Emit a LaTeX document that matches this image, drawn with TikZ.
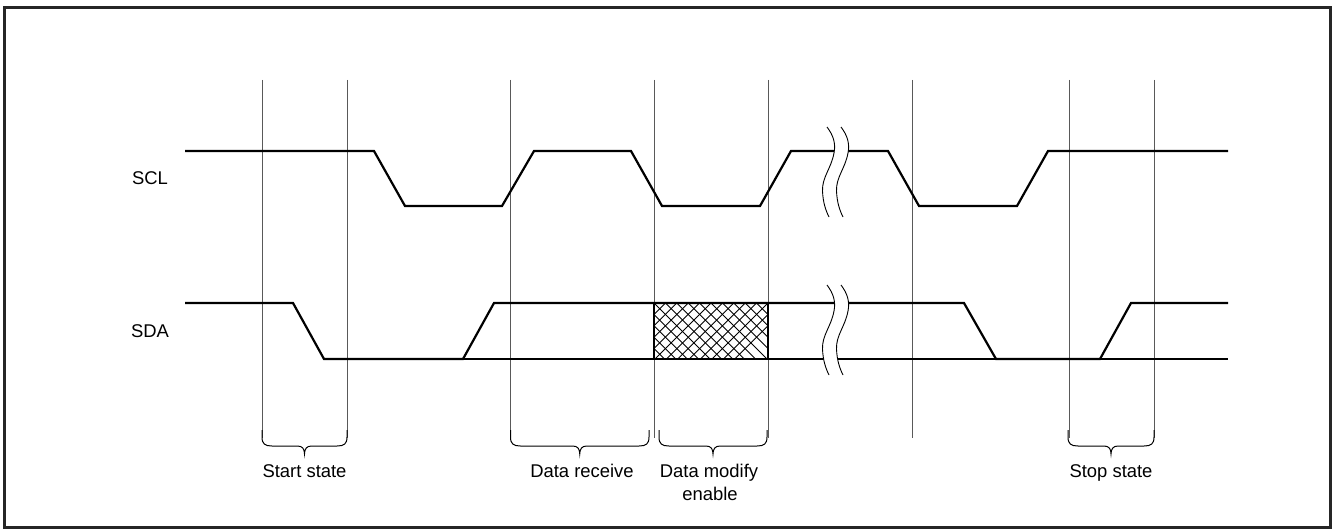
\documentclass[tikz,border=0pt]{standalone}
\usepackage{fontspec}
\setmainfont{Liberation Sans}
\begin{document}
\begin{tikzpicture}[x=1bp,y=-1bp,
  sig/.style={line width=2.2bp,line join=miter,black},
  grid/.style={line width=1bp,black!65},
  brk/.style={line width=0.9bp,black},
  brc/.style={line width=1bp,black},
  lbl/.style={font=\fontsize{18.5}{23}\selectfont,inner sep=0pt,align=center}]
\useasboundingbox (0,0) rectangle (1335,531);
\draw[line width=2.6bp,black!85] (4.5,7.5) rectangle (1330.5,527.5);
% grid lines
\foreach \x in {262,347,510,654,768,912,1069,1154}
  \draw[grid] (\x,80) -- (\x,438);
% SCL
\draw[sig] (185,151) -- (374,151) -- (405,206) -- (502,206) -- (534,151) -- (631,151)
  -- (662,206) -- (760,206) -- (791,151) -- (888,151) -- (919,206) -- (1017,206)
  -- (1048,151) -- (1228,151);
% SDA
\draw[sig] (185,303) -- (293,303) -- (324,359) -- (463,359) -- (494,303) -- (964,303)
  -- (996,359) -- (1100,359) -- (1131,303) -- (1228,303);
\draw[sig] (324,359) -- (1228,359);
% hatch box
\begin{scope}
  \clip (654,303) rectangle (768,359);
  \foreach \k in {-6,...,12}
    \draw[line width=0.9bp] (654+\k*11.4,303) -- ++(60,60) (654+\k*11.4,303) -- ++(-60,60);
\end{scope}
\draw[line width=2.2bp] (654,303) rectangle (768,359);
% breaks
\foreach \t in {127,285}{
  \fill[white] (827,\t) .. controls (833,\t+8) and (836,\t+16) .. (834,\t+26)
      .. controls (831,\t+42) and (822,\t+50) .. (822.5,\t+64)
      .. controls (823,\t+76) and (826,\t+84) .. (829,\t+90)
    -- (843,\t+90) .. controls (840,\t+84) and (837,\t+76) .. (836.5,\t+64)
      .. controls (836,\t+50) and (845,\t+42) .. (848,\t+26)
      .. controls (850,\t+16) and (847,\t+8) .. (841,\t) -- cycle;
  \draw[brk] (827,\t) .. controls (833,\t+8) and (836,\t+16) .. (834,\t+26)
      .. controls (831,\t+42) and (822,\t+50) .. (822.5,\t+64)
      .. controls (823,\t+76) and (826,\t+84) .. (829,\t+90);
  \draw[brk] (841,\t) .. controls (847,\t+8) and (850,\t+16) .. (848,\t+26)
      .. controls (845,\t+42) and (836,\t+50) .. (836.5,\t+64)
      .. controls (837,\t+76) and (840,\t+84) .. (843,\t+90);
}
% braces
\foreach \a/\b in {262/347,510.5/649,659/767,1068/1154}{
  \pgfmathsetmacro{\c}{(\a+\b)/2}
  \draw[brc] (\a,430) -- (\a,437) .. controls (\a,444) and (\a+3,446) .. (\a+10,446)
    -- (\c-7,446) .. controls (\c-2,446) and (\c,449) .. (\c,454)
    .. controls (\c,449) and (\c+2,446) .. (\c+7,446)
    -- (\b-10,446) .. controls (\b-3,446) and (\b,444) .. (\b,437) -- (\b,430);
}
% labels
\node[lbl] (scl) at (150,178) {SCL};
\node[lbl] (sda) at (150,331) {SDA};
\node[lbl,anchor=base] (st) at (304.5,477) {Start state};
\node[lbl,anchor=base] (dr) at (582,477) {Data receive};
\node[lbl,anchor=base] (dm) at (709,477) {Data modify};
\node[lbl,anchor=base] (dme) at (710,500) {enable};
\node[lbl,anchor=base] (sp) at (1111,477) {Stop state};
\end{tikzpicture}
\end{document}
